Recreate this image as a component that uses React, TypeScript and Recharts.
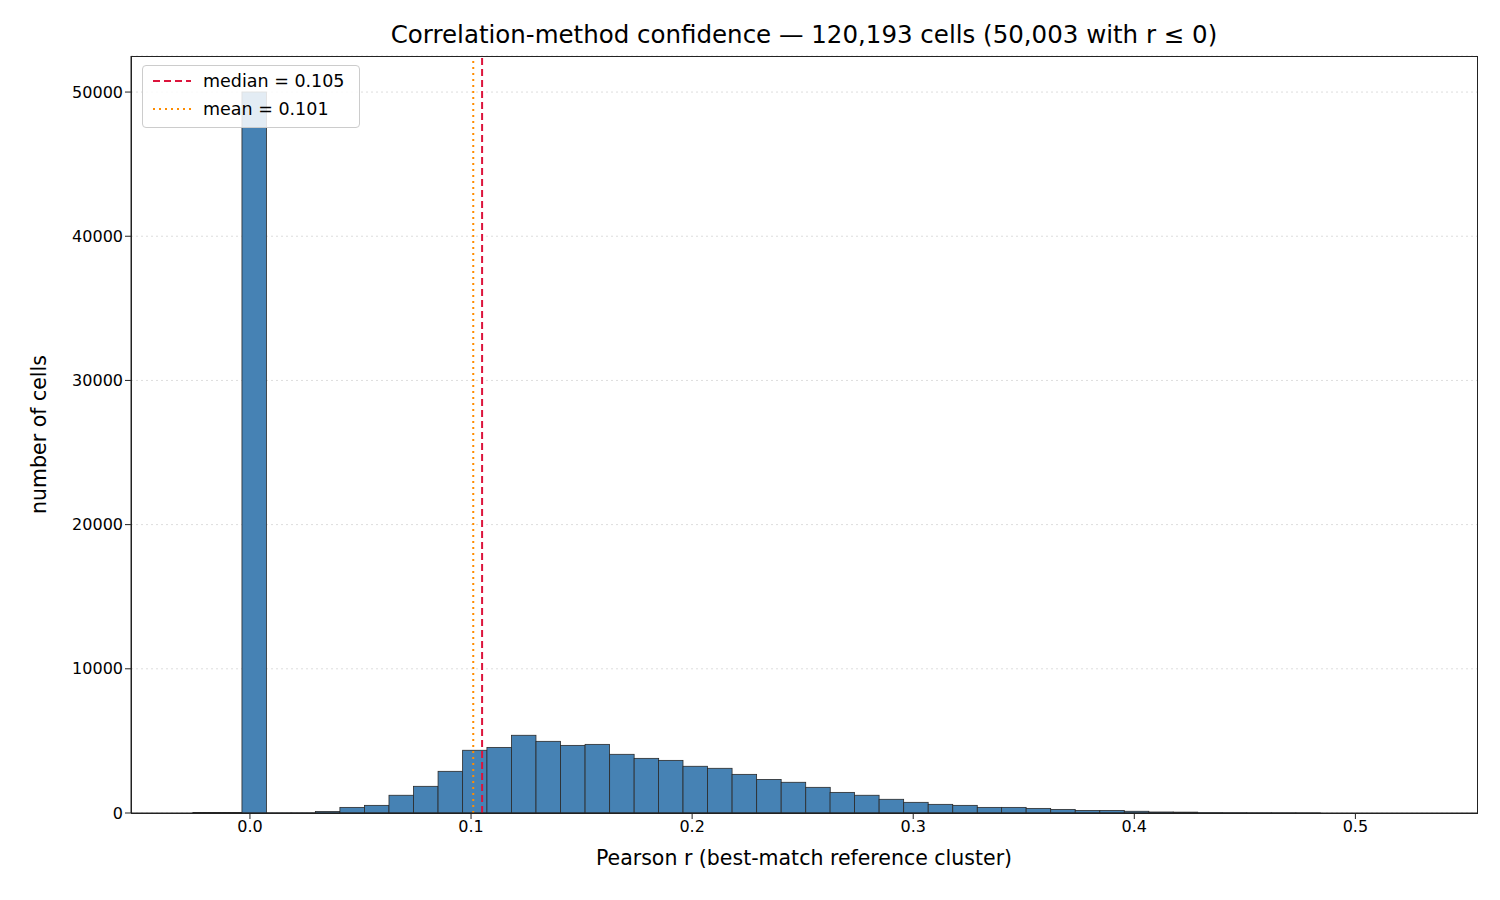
import React from 'react';
import { ComposedChart, Bar, XAxis, YAxis, CartesianGrid, ReferenceLine } from 'recharts';

const binCenters = [
  -0.0202, -0.0091, 0.0020, 0.0131, 0.0242, 0.0352, 0.0463, 0.0574, 0.0685, 0.0796,
  0.0907, 0.1018, 0.1128, 0.1239, 0.1350, 0.1461, 0.1572, 0.1683, 0.1794, 0.1904,
  0.2015, 0.2126, 0.2237, 0.2348, 0.2459, 0.2570, 0.2680, 0.2791, 0.2902, 0.3013,
  0.3124, 0.3235, 0.3346, 0.3456, 0.3567, 0.3678, 0.3789, 0.3900, 0.4011, 0.4122,
  0.4232, 0.4343, 0.4454, 0.4565, 0.4676, 0.4787,
];
const binCounts = [
  30, 40, 50003, 8, 10, 100, 390, 530, 1230, 1850,
  2890, 4350, 4550, 5390, 4970, 4690, 4760, 4070, 3790, 3650,
  3240, 3100, 2680, 2330, 2130, 1780, 1430, 1230, 950, 740,
  600, 530, 390, 390, 320, 250, 180, 180, 120, 70,
  60, 20, 15, 10, 8, 5,
];
const xTicks = [0, 0.1, 0.2, 0.3, 0.4, 0.5];
const yTicks = [0, 10000, 20000, 30000, 40000, 50000];
const medianR = 0.105;
const meanR = 0.101;
const binWidth = 0.01108;
const xDomain = [-0.0538, 0.555];

const data = binCenters.map((x, i) => ({ x, count: binCounts[i] }));

const FONT = '"DejaVu Sans", sans-serif';
const PLOT_W = 1346;
const binPx = (binWidth / (xDomain[1] - xDomain[0])) * PLOT_W;

const HistBar = (p: any) => {
  const cx = p.x + p.width / 2;
  return <rect x={cx - binPx / 2} y={p.y} width={binPx} height={Math.max(p.height, 0)} fill="#4682b4" stroke="#2a2a2a" strokeWidth={0.8} />;
};

export default function App() {
  return (
    <div style={{ position: 'absolute', left: 0, top: 0, width: 1500, height: 900, background: '#fff', fontFamily: FONT }}>
      <div style={{ position: 'absolute', top: 20, left: 131, width: 1346, textAlign: 'center', fontSize: 24.5, color: '#000' }}>
        Correlation-method confidence — 120,193 cells (50,003 with r ≤ 0)
      </div>
      <ComposedChart width={1500} height={900} data={data} margin={{ top: 56, right: 23, bottom: 37, left: 51 }}>
        <CartesianGrid horizontal vertical={false} stroke="#ddd" strokeDasharray="2 3" />
        <XAxis
          dataKey="x"
          type="number"
          domain={xDomain}
          ticks={xTicks}
          tickFormatter={(v: number) => v.toFixed(1)}
          height={50}
          tick={{ fill: '#000', fontSize: 16, fontFamily: FONT }}
          tickSize={6}
          stroke="#222"
          allowDataOverflow
          label={{ value: 'Pearson r (best-match reference cluster)', position: 'insideBottom', offset: -2, fill: '#000', fontSize: 20.5, fontFamily: FONT }}
        />
        <YAxis
          type="number"
          domain={[0, 52500]}
          ticks={yTicks}
          width={80}
          tick={{ fill: '#000', fontSize: 16, fontFamily: FONT }}
          tickSize={6}
          stroke="#222"
          allowDataOverflow
          label={{ value: 'number of cells', angle: -90, position: 'insideLeft', offset: -12, fill: '#000', fontSize: 20.5, fontFamily: FONT, style: { textAnchor: 'middle' } }}
        />
        <Bar dataKey="count" fill="#4682b4" barSize={20} shape={HistBar} isAnimationActive={false} />
        <ReferenceLine x={meanR} stroke="#ff8c00" strokeWidth={2} strokeDasharray="2 4" />
        <ReferenceLine x={medianR} stroke="#dc143c" strokeWidth={2} strokeDasharray="7 4" />
      </ComposedChart>
      <div style={{ position: 'absolute', left: 131, top: 56, width: 1347, height: 758, border: '1.3px solid #222', boxSizing: 'border-box', pointerEvents: 'none' }} />
      <div style={{ position: 'absolute', left: 142, top: 65, width: 218, height: 63, border: '1px solid #ccc', borderRadius: 4, background: 'rgba(255,255,255,0.85)', boxSizing: 'border-box', fontSize: 17.5, color: '#000' }}>
        <div style={{ position: 'absolute', left: 8, top: 5, display: 'flex', alignItems: 'center' }}>
          <svg width={42} height={4}><line x1={2} y1={2} x2={40} y2={2} stroke="#dc143c" strokeWidth={2} strokeDasharray="7 4" /></svg>
          <span style={{ marginLeft: 10 }}>median = 0.105</span>
        </div>
        <div style={{ position: 'absolute', left: 8, top: 33, display: 'flex', alignItems: 'center' }}>
          <svg width={42} height={4}><line x1={2} y1={2} x2={40} y2={2} stroke="#ff8c00" strokeWidth={2} strokeDasharray="2 4" /></svg>
          <span style={{ marginLeft: 10 }}>mean = 0.101</span>
        </div>
      </div>
    </div>
  );
}
